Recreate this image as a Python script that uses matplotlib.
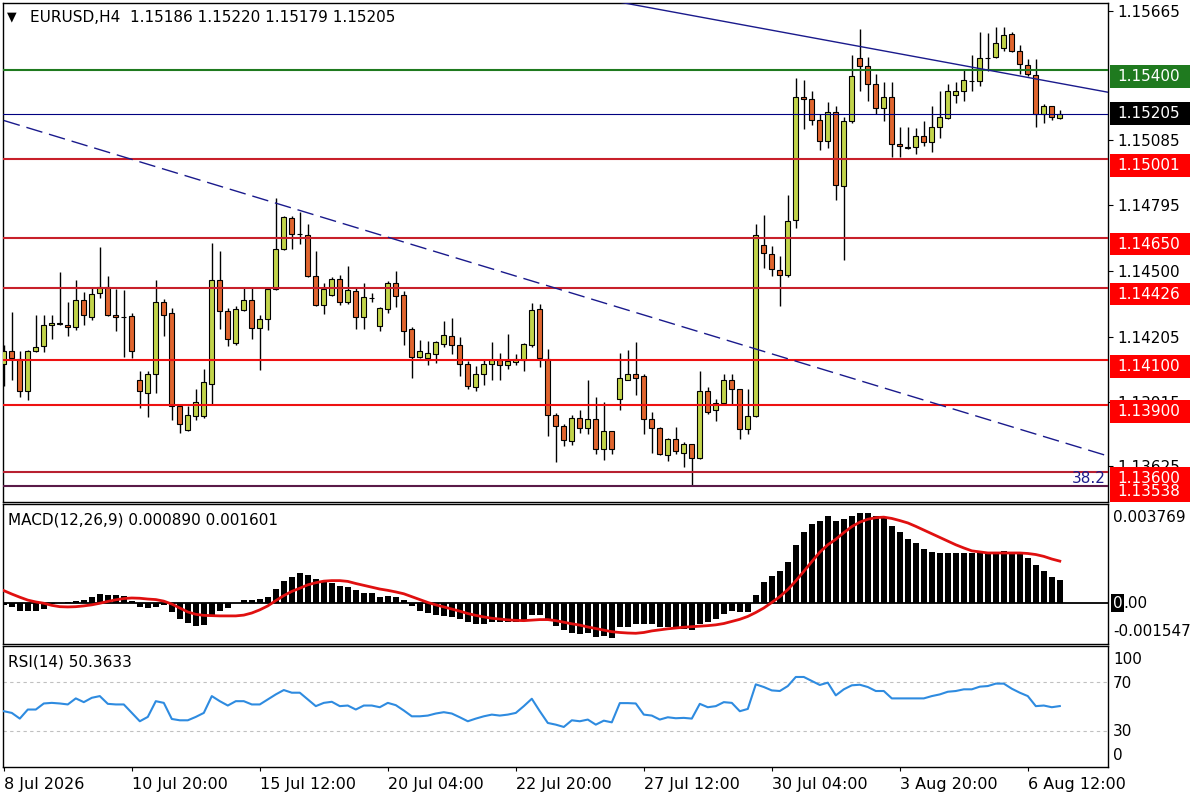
import matplotlib
matplotlib.use("Agg")
import matplotlib.pyplot as plt
from matplotlib.patches import Rectangle

W, H = 1200, 800

# --- EURUSD H4 candles (bar 0 = 8 Jul 04:00) ---
opens = [
    1.14086, 1.14144, 1.14108, 1.13965, 1.14144, 1.14166, 1.14260, 1.14266, 1.14260, 1.14251,
    1.14371, 1.14295, 1.14402, 1.14429, 1.14304, 1.14296, 1.14300, 1.14010, 1.13956, 1.14041,
    1.14362, 1.14313, 1.13894, 1.13787, 1.13849, 1.13849, 1.13996, 1.14460, 1.14322, 1.14179,
    1.14327, 1.14371, 1.14246, 1.14286, 1.14420, 1.14599, 1.14737, 1.14666, 1.14661, 1.14478,
    1.14349, 1.14393, 1.14465, 1.14362, 1.14411, 1.14295, 1.14380, 1.14255, 1.14331, 1.14447,
    1.14393, 1.14242, 1.14117, 1.14112, 1.14130, 1.14175, 1.14211, 1.14170, 1.14086, 1.13979,
    1.14041, 1.14086, 1.14103, 1.14081, 1.14095, 1.14103, 1.14170, 1.14331, 1.14108, 1.13854,
    1.13805, 1.13738, 1.13840, 1.13796, 1.13836, 1.13702, 1.13782, 1.13925, 1.14014, 1.14041,
    1.14028, 1.13836, 1.13796, 1.13675, 1.13747, 1.13684, 1.13724, 1.13662, 1.13961, 1.13880,
    1.13907, 1.14010, 1.13970, 1.13791, 1.13849, 1.14617, 1.14576, 1.14505, 1.14483, 1.14728,
    1.15281, 1.15268, 1.15174, 1.15081, 1.15214, 1.14880, 1.15170, 1.15455, 1.15420, 1.15339,
    1.15228, 1.15281, 1.15067, 1.15054, 1.15054, 1.15103, 1.15076, 1.15147, 1.15183, 1.15286,
    1.15308, 1.15353, 1.15353, 1.15455, 1.15460, 1.15500, 1.15562, 1.15487, 1.15424, 1.15379,
    1.15205, 1.15237, 1.15186,
]
highs = [
    1.14170, 1.14318, 1.14144, 1.14148, 1.14304, 1.14304, 1.14304, 1.14496, 1.14362, 1.14460,
    1.14407, 1.14425, 1.14608, 1.14478, 1.14420, 1.14416, 1.14313, 1.14054, 1.14054, 1.14460,
    1.14376, 1.14335, 1.13903, 1.13898, 1.13970, 1.14063, 1.14625, 1.14590, 1.14335, 1.14344,
    1.14425, 1.14425, 1.14304, 1.14425, 1.14826, 1.14746, 1.14746, 1.14764, 1.14710, 1.14590,
    1.14447, 1.14474, 1.14483, 1.14523, 1.14425, 1.14447, 1.14402, 1.14340, 1.14456, 1.14501,
    1.14411, 1.14251, 1.14193, 1.14188, 1.14188, 1.14277, 1.14291, 1.14206, 1.14099, 1.14077,
    1.14103, 1.14184, 1.14135, 1.14219, 1.14130, 1.14179, 1.14358, 1.14353, 1.14153, 1.13863,
    1.13813, 1.13854, 1.13880, 1.14014, 1.13934, 1.13912, 1.13782, 1.14135, 1.14148, 1.14184,
    1.14037, 1.13871, 1.13800, 1.13751, 1.13800, 1.13733, 1.13724, 1.14054, 1.13983, 1.13925,
    1.14041, 1.14037, 1.13974, 1.13974, 1.14710, 1.14750, 1.14612, 1.14567, 1.14840, 1.15366,
    1.15357, 1.15308, 1.15205, 1.15259, 1.15241, 1.15188, 1.15469, 1.15585, 1.15460, 1.15384,
    1.15348, 1.15348, 1.15147, 1.15147, 1.15139, 1.15170, 1.15237, 1.15308, 1.15339, 1.15348,
    1.15402, 1.15469, 1.15571, 1.15567, 1.15594, 1.15594, 1.15571, 1.15513, 1.15451, 1.15451,
    1.15246, 1.15241, 1.15220,
]
lows = [
    1.13987, 1.14010, 1.13934, 1.13921, 1.14139, 1.14139, 1.14197, 1.14260, 1.14211, 1.14237,
    1.14260, 1.14282, 1.14380, 1.14300, 1.14233, 1.14117, 1.14112, 1.13889, 1.13845, 1.13956,
    1.14211, 1.13831, 1.13773, 1.13782, 1.13831, 1.13840, 1.13903, 1.14242, 1.14166, 1.14170,
    1.14322, 1.14197, 1.14059, 1.14237, 1.14416, 1.14594, 1.14599, 1.14621, 1.14474, 1.14344,
    1.14309, 1.14389, 1.14349, 1.14353, 1.14242, 1.14242, 1.14362, 1.14233, 1.14313, 1.14340,
    1.14170, 1.14023, 1.14112, 1.14081, 1.14090, 1.14161, 1.14130, 1.14028, 1.13970, 1.13961,
    1.13992, 1.14010, 1.14010, 1.14063, 1.14081, 1.14054, 1.14161, 1.14072, 1.13760, 1.13644,
    1.13715, 1.13720, 1.13773, 1.13769, 1.13680, 1.13653, 1.13680, 1.13876, 1.14010, 1.13947,
    1.13769, 1.13684, 1.13675, 1.13648, 1.13680, 1.13622, 1.13537, 1.13657, 1.13858, 1.13827,
    1.13903, 1.13903, 1.13747, 1.13769, 1.13845, 1.14514, 1.14478, 1.14344, 1.14474, 1.14692,
    1.15134, 1.15152, 1.15040, 1.15049, 1.14817, 1.14550, 1.15165, 1.15304, 1.15263, 1.15201,
    1.15170, 1.15009, 1.15009, 1.15045, 1.15023, 1.15058, 1.15031, 1.15094, 1.15179, 1.15254,
    1.15263, 1.15308, 1.15330, 1.15397, 1.15455, 1.15487, 1.15482, 1.15384, 1.15371, 1.15147,
    1.15165, 1.15174, 1.15179,
]
closes = [
    1.14144, 1.14112, 1.13965, 1.14144, 1.14161, 1.14260, 1.14269, 1.14265, 1.14251, 1.14371,
    1.14304, 1.14398, 1.14429, 1.14304, 1.14295, 1.14295, 1.14144, 1.13961, 1.14041, 1.14362,
    1.14304, 1.13894, 1.13813, 1.13854, 1.13912, 1.14001, 1.14460, 1.14322, 1.14197, 1.14331,
    1.14371, 1.14246, 1.14286, 1.14420, 1.14599, 1.14741, 1.14666, 1.14665, 1.14478, 1.14349,
    1.14420, 1.14465, 1.14362, 1.14416, 1.14295, 1.14385, 1.14381, 1.14335, 1.14447, 1.14389,
    1.14233, 1.14117, 1.14144, 1.14135, 1.14184, 1.14215, 1.14170, 1.14086, 1.13987, 1.14041,
    1.14086, 1.14103, 1.14081, 1.14099, 1.14108, 1.14175, 1.14327, 1.14112, 1.13854, 1.13805,
    1.13742, 1.13840, 1.13796, 1.13836, 1.13702, 1.13782, 1.13702, 1.14019, 1.14041, 1.14019,
    1.13836, 1.13796, 1.13680, 1.13747, 1.13693, 1.13724, 1.13662, 1.13961, 1.13871, 1.13907,
    1.14010, 1.13970, 1.13791, 1.13849, 1.14661, 1.14581, 1.14509, 1.14483, 1.14724, 1.15281,
    1.15268, 1.15174, 1.15081, 1.15214, 1.14884, 1.15170, 1.15371, 1.15420, 1.15339, 1.15228,
    1.15281, 1.15067, 1.15058, 1.15053, 1.15103, 1.15076, 1.15147, 1.15188, 1.15304, 1.15308,
    1.15357, 1.15352, 1.15455, 1.15456, 1.15522, 1.15558, 1.15487, 1.15429, 1.15384, 1.15205,
    1.15241, 1.15188, 1.15205,
]

# --- MACD(12,26,9): histogram (main) and signal line ---
macd_hist = [
    -0.00008, -0.00013, -0.00028, -0.00028, -0.00028, -0.00022, -0.00002, 0.00002, 0.00004, 0.00010,
    0.00014, 0.00024, 0.00037, 0.00033, 0.00032, 0.00027, 0.00010, -0.00015, -0.00019, -0.00015,
    -0.00006, -0.00032, -0.00060, -0.00075, -0.00087, -0.00082, -0.00047, -0.00028, -0.00019, 0.00000,
    0.00014, 0.00014, 0.00016, 0.00025, 0.00056, 0.00086, 0.00101, 0.00113, 0.00106, 0.00091,
    0.00085, 0.00077, 0.00067, 0.00062, 0.00050, 0.00040, 0.00038, 0.00023, 0.00027, 0.00023,
    0.00013, -0.00009, -0.00028, -0.00037, -0.00044, -0.00047, -0.00053, -0.00059, -0.00072, -0.00078,
    -0.00078, -0.00072, -0.00072, -0.00072, -0.00072, -0.00062, -0.00044, -0.00044, -0.00059, -0.00087,
    -0.00100, -0.00114, -0.00116, -0.00114, -0.00127, -0.00123, -0.00132, -0.00091, -0.00091, -0.00078,
    -0.00078, -0.00078, -0.00091, -0.00091, -0.00094, -0.00097, -0.00101, -0.00078, -0.00072, -0.00059,
    -0.00041, -0.00030, -0.00034, -0.00034, 0.00033, 0.00080, 0.00105, 0.00124, 0.00158, 0.00223,
    0.00272, 0.00301, 0.00314, 0.00330, 0.00311, 0.00320, 0.00333, 0.00343, 0.00343, 0.00330,
    0.00327, 0.00295, 0.00270, 0.00244, 0.00228, 0.00206, 0.00196, 0.00190, 0.00190, 0.00190,
    0.00190, 0.00190, 0.00194, 0.00194, 0.00194, 0.00200, 0.00196, 0.00194, 0.00171, 0.00146,
    0.00124, 0.00101, 0.00089,
]
macd_signal = [
    0.00048, 0.00035, 0.00023, 0.00012, 0.00005, 0.00000, -0.00008, -0.00013, -0.00014, -0.00013,
    -0.00010, -0.00006, 0.00000, 0.00007, 0.00013, 0.00018, 0.00020, 0.00019, 0.00016, 0.00014,
    0.00008, -0.00003, -0.00018, -0.00033, -0.00042, -0.00046, -0.00047, -0.00048, -0.00048, -0.00048,
    -0.00045, -0.00037, -0.00025, -0.00010, 0.00010, 0.00029, 0.00045, 0.00057, 0.00070, 0.00078,
    0.00084, 0.00086, 0.00086, 0.00083, 0.00075, 0.00068, 0.00061, 0.00054, 0.00049, 0.00043,
    0.00036, 0.00025, 0.00014, 0.00003, -0.00006, -0.00014, -0.00022, -0.00030, -0.00039, -0.00046,
    -0.00052, -0.00057, -0.00060, -0.00063, -0.00065, -0.00066, -0.00064, -0.00062, -0.00062, -0.00066,
    -0.00072, -0.00078, -0.00083, -0.00090, -0.00096, -0.00102, -0.00108, -0.00111, -0.00113, -0.00114,
    -0.00111, -0.00105, -0.00101, -0.00097, -0.00094, -0.00091, -0.00089, -0.00087, -0.00085, -0.00082,
    -0.00077, -0.00069, -0.00061, -0.00050, -0.00035, -0.00018, 0.00003, 0.00025, 0.00052, 0.00085,
    0.00121, 0.00158, 0.00194, 0.00222, 0.00243, 0.00268, 0.00291, 0.00308, 0.00319, 0.00325,
    0.00327, 0.00322, 0.00314, 0.00305, 0.00292, 0.00278, 0.00264, 0.00250, 0.00236, 0.00222,
    0.00210, 0.00199, 0.00195, 0.00191, 0.00191, 0.00191, 0.00191, 0.00191, 0.00189, 0.00185,
    0.00178, 0.00168, 0.00160,
]

# --- RSI(14) ---
rsi_values = [
    46.1, 44.7, 40.0, 47.5, 47.5, 52.5, 53.0, 52.5, 51.7, 56.7,
    53.6, 57.2, 58.6, 52.2, 51.7, 51.7, 44.7, 37.8, 41.4, 54.4,
    53.0, 39.7, 38.6, 38.6, 41.4, 44.7, 58.6, 54.4, 50.8, 54.4,
    54.4, 51.7, 51.7, 55.8, 60.0, 63.6, 61.4, 61.4, 55.8, 50.3,
    53.0, 53.9, 50.3, 50.8, 47.5, 50.8, 50.8, 49.4, 53.0, 51.1,
    46.7, 41.9, 41.9, 42.5, 44.2, 45.3, 44.2, 41.1, 37.8, 40.0,
    41.9, 43.3, 42.5, 43.3, 44.7, 50.3, 56.4, 46.1, 36.4, 35.0,
    33.1, 38.6, 37.8, 39.2, 35.0, 38.3, 36.9, 52.8, 52.8, 52.5,
    43.3, 42.5, 39.2, 41.1, 40.3, 40.6, 40.0, 52.2, 49.4, 50.3,
    53.6, 53.0, 46.1, 48.0, 68.3, 66.1, 63.3, 62.8, 66.9, 74.4,
    74.4, 71.1, 67.8, 69.7, 59.2, 64.2, 67.5, 68.0, 66.1, 62.8,
    62.8, 56.7, 56.7, 56.7, 56.7, 56.7, 58.6, 60.0, 62.2, 62.8,
    64.2, 64.2, 66.4, 66.9, 68.9, 68.9, 64.7, 61.4, 58.6, 50.3,
    50.8, 49.4, 50.3633,
]

# horizontal levels drawn on the chart and their price tags
level_prices = [1.15400, 1.15001, 1.14650, 1.14426, 1.14100, 1.13900, 1.13600, 1.13538]
level_line_colors = ["#1f7a1f", "#c8202a", "#c8202a", "#c8202a", "#ee1111", "#ee1111", "#b82030", "#5a1a48"]
level_tag_colors = ["#1f7a1f", "#ff0000", "#ff0000", "#ff0000", "#ff0000", "#ff0000", "#ff0000", "#ff0000"]
bid_price = 1.15205

# trend lines (bar index, price)
trend_solid_bars = [60, 138.1]
trend_solid_prices = [1.15816, 1.15300]
trend_dash_bars = [0, 138.1]
trend_dash_prices = [1.15174, 1.13671]

price_ticks = [1.15665, 1.15085, 1.14795, 1.14500, 1.14205, 1.13915, 1.13625]
date_tick_bars = [0, 16, 32, 48, 64, 80, 96, 112, 128]
date_labels = ["8 Jul 2026", "10 Jul 20:00", "15 Jul 12:00", "20 Jul 04:00", "22 Jul 20:00",
               "27 Jul 12:00", "30 Jul 04:00", "3 Aug 20:00", "6 Aug 12:00"]

BULL = "#c2d44a"
BEAR = "#e0652e"
FS = 11


def px_rect(x0, y0, x1, y1):
    return [x0 / W, 1 - y1 / H, (x1 - x0) / W, (y1 - y0) / H]


fig = plt.figure(figsize=(W / 100, H / 100), dpi=100)
fig.patch.set_facecolor("white")

ax = fig.add_axes(px_rect(3, 3, 1108, 502))
ax_macd = fig.add_axes(px_rect(3, 504, 1108, 644))
ax_rsi = fig.add_axes(px_rect(3, 646, 1108, 767))

xlim = (-0.1, 138.025)
for a in (ax, ax_macd, ax_rsi):
    a.set_xlim(*xlim)
    for s in a.spines.values():
        s.set_color("black")
        s.set_linewidth(1)
    a.tick_params(axis="x", bottom=False, labelbottom=False)
    a.tick_params(axis="y", left=False, labelleft=False)

# ---- price panel ----
idx = list(range(len(opens)))
ax.set_ylim(1.13466, 1.15700)
ax.vlines(idx, lows, highs, color="black", lw=1, zorder=3)
bottoms = [min(o, c) for o, c in zip(opens, closes)]
heights = [max(abs(c - o), 0.00001) for o, c in zip(opens, closes)]
colors = [BULL if c >= o else BEAR for o, c in zip(opens, closes)]
ax.bar(idx, heights, bottom=bottoms, width=0.6, color=colors,
       edgecolor="black", linewidth=0.8, zorder=4)

for p, col in zip(level_prices, level_line_colors):
    ax.axhline(p, color=col, lw=1.5, zorder=5)
ax.axhline(bid_price, color="#000080", lw=0.8, zorder=5)
ax.plot(trend_solid_bars, trend_solid_prices, color="#1a1a8c", lw=1, zorder=5)
ax.plot(trend_dash_bars, trend_dash_prices, color="#1a1a8c", lw=1,
        dashes=(12, 5), zorder=5)

ax.yaxis.tick_right()
ax.set_yticks(price_ticks)
ax.set_yticklabels([f"{p:.5f}" for p in price_ticks])
ax.tick_params(axis="y", right=True, labelright=True, direction="out",
               length=3.5, width=0.8, pad=3, labelsize=FS)

# ---- MACD panel ----
ax_macd.set_ylim(-0.001547, 0.003769)
ax_macd.bar(idx, macd_hist, width=0.75, color="black", zorder=2)
ax_macd.axhline(0, color="black", lw=1.3, zorder=2)
ax_macd.plot(idx, macd_signal, color="#e01010", lw=2, zorder=3)

# ---- RSI panel ----
ax_rsi.set_ylim(0, 100)
for lvl in (70, 30):
    ax_rsi.axhline(lvl, color="#c0c0c0", lw=0.8, dashes=(3, 3), zorder=1)
ax_rsi.plot(idx, rsi_values, color="#2e8be0", lw=1.5, zorder=3)
ax_rsi.set_xticks(date_tick_bars)
ax_rsi.set_xticklabels(date_labels)
ax_rsi.tick_params(axis="x", bottom=True, labelbottom=True, direction="out",
                   length=3, width=0.8, pad=4, labelsize=FS + 0.5)
for lab in ax_rsi.get_xticklabels():
    lab.set_horizontalalignment("left")

# ---- overlay in pixel units for tags and captions ----
ov = fig.add_axes([0, 0, 1, 1])
ov.set_xlim(0, W)
ov.set_ylim(H, 0)
ov.axis("off")
ov.set_zorder(10)


def price_px(p):
    return H - ax.transData.transform((0, p))[1]


for p, col in zip(level_prices, level_tag_colors):
    top = min(price_px(p) - 5, 502 - 22.5)
    ov.add_patch(Rectangle((1110, top), 80, 22.5, facecolor=col, edgecolor="none"))
    ov.text(1117, top + 11.5, f"{p:.5f}", color="white", fontsize=FS, va="center", ha="left")

yb = price_px(bid_price)
ov.add_patch(Rectangle((1110, yb - 11.5), 80, 23, facecolor="black", edgecolor="none"))
ov.text(1117, yb, f"{bid_price:.5f}", color="white", fontsize=FS, va="center", ha="left")

ov.text(1106, price_px(1.13600) + 6, "38.2", color="#1c1c8c", fontsize=FS, va="center", ha="right")

# header captions
ov.text(7, 17, "\u25bc", fontsize=9, va="center", ha="left", color="black")
ov.text(30, 17, "EURUSD,H4  1.15186 1.15220 1.15179 1.15205", fontsize=FS,
        va="center", ha="left", color="black")
ov.text(8, 520, "MACD(12,26,9) 0.000890 0.001601", fontsize=FS, va="center", ha="left")
ov.text(8, 662, "RSI(14) 50.3633", fontsize=FS, va="center", ha="left")

# MACD scale labels
ov.text(1113, 518, "0.003769", fontsize=FS, va="center", ha="left")
ov.text(1113, 603, "0", fontsize=FS, va="center", ha="left", color="white",
        bbox=dict(boxstyle="square,pad=0.1", fc="black", ec="none"))
ov.text(1123, 603, ".00", fontsize=FS, va="center", ha="left")
ov.text(1113, 632, "-0.001547", fontsize=FS, va="center", ha="left")

# RSI scale labels
for txt, y in (("100", 660), ("70", 684), ("30", 731), ("0", 755)):
    ov.text(1113, y, txt, fontsize=FS, va="center", ha="left")

fig.savefig("out.png", dpi=100, facecolor="white")
